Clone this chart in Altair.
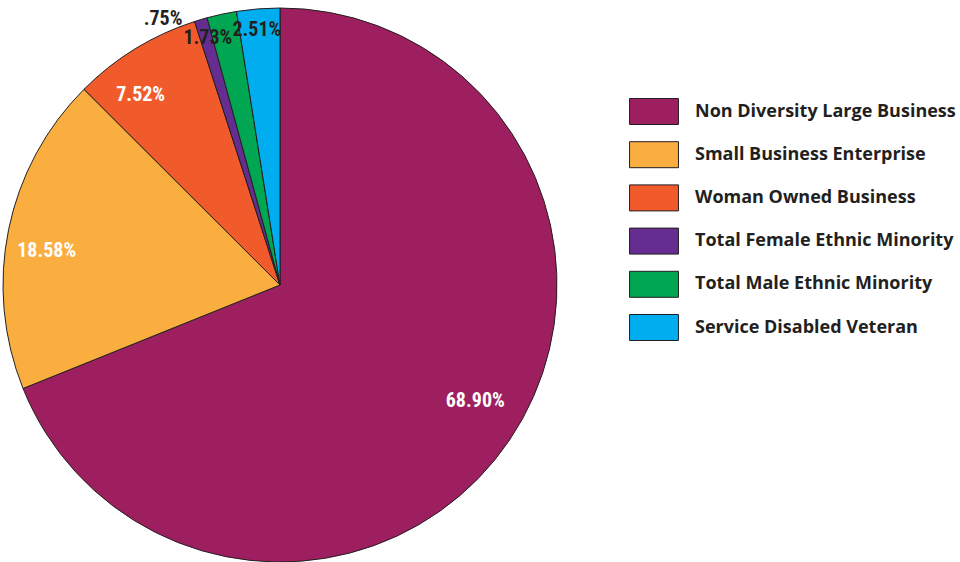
import altair as alt
import pandas as pd

categories = [
    "Non Diversity Large Business",
    "Small Business Enterprise",
    "Woman Owned Business",
    "Total Female Ethnic Minority",
    "Total Male Ethnic Minority",
    "Service Disabled Veteran",
]
values = [68.90, 18.58, 7.52, 0.75, 1.73, 2.51]
labels = ["68.90%", "18.58%", "7.52%", ".75%", "1.73%", "2.51%"]
colors = ["#9E1F5F", "#FBAE40", "#F15A2B", "#662D91", "#00A651", "#00AEEF"]

df = pd.DataFrame({
    "category": categories,
    "value": values,
    "label": labels,
    "order": list(range(len(categories))),
})

CX, CY, R = 280, 285, 277
label_font = "Liberation Sans Narrow, Roboto Condensed, Roboto, sans-serif"

base = alt.Chart(df).encode(
    theta=alt.Theta("value:Q", stack=True),
    order=alt.Order("order:Q"),
)

pie = base.mark_arc(outerRadius=R, stroke="#231F20", strokeWidth=1).encode(
    x=alt.value(CX),
    y=alt.value(CY),
    color=alt.Color(
        "category:N",
        scale=alt.Scale(domain=categories, range=colors),
        sort=categories,
        legend=alt.Legend(
            title=None,
            orient="none",
            legendX=640.5,
            legendY=98,
            symbolType="M-1.88,-1H1.88V1H-1.88Z",
            symbolSize=676,
            symbolStrokeColor="#231F20",
            symbolStrokeWidth=1,
            symbolOpacity=1,
            labelFont="Open Sans",
            labelFontWeight="bold",
            labelFontSize=18,
            labelColor="#231F20",
            labelOffset=27.5,
            labelLimit=400,
            rowPadding=12.2,
            padding=0,
        ),
    ),
)

# (category, radius, dx, dy, color)
label_specs = [
    (categories[0], 232, 3, -14, "white"),
    (categories[1], 235, -3, 13, "white"),
    (categories[2], 236, -16, 11, "white"),
    (categories[3], 290, -34, 12, "#231F20"),
    (categories[4], 257, -18, 4, "#231F20"),
    (categories[5], 256, -3, 0, "#231F20"),
]

text_layers = []
for cat, rad, dx, dy, col in label_specs:
    text_layers.append(
        base.mark_text(
            font=label_font,
            fontWeight="bold",
            fontSize=20,
            color=col,
            dx=dx,
            dy=dy,
            baseline="middle",
            align="center",
        ).encode(
            x=alt.value(CX),
            y=alt.value(CY),
            radius=alt.value(rad),
            text="label:N",
            opacity=alt.condition(alt.datum.category == cat, alt.value(1), alt.value(0)),
        )
    )

chart = alt.layer(pie, *text_layers).properties(
    width=960,
    height=562,
    padding=0,
    autosize=alt.AutoSizeParams(type="none"),
).configure_view(stroke=None)

chart.save("out.html", embed_options={"renderer": "svg", "actions": False})
